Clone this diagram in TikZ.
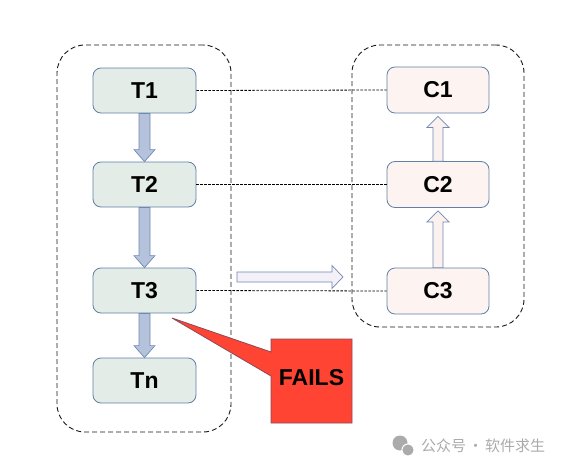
\documentclass[tikz,border=0pt]{standalone}
\usepackage{fontspec}
\setmainfont{Liberation Sans}
\newfontfamily\cjk{Noto Sans CJK SC}
\usetikzlibrary{calc}
\definecolor{boxline}{HTML}{6080A8}
\definecolor{tfill}{HTML}{E3ECE7}
\definecolor{cfill}{HTML}{FDF3F0}
\definecolor{darrowfill}{HTML}{B4C2DC}
\definecolor{darrowline}{HTML}{7089B4}
\definecolor{uarrowfill}{HTML}{FBF1EF}
\definecolor{rarrowfill}{HTML}{F3F0F8}
\definecolor{failred}{HTML}{FF4433}
\definecolor{failline}{HTML}{8A4A5A}
\definecolor{wmgray}{HTML}{ABABAB}
\newcommand{\tdarrow}[2]{%
  \path[fill=darrowfill, draw=darrowline, line width=0.7pt]
    let \p1=(#1.south), \p2=(#2.north) in
    (\x1-5.5pt,\y1) -- (\x1-5.5pt,\y2+12pt) -- (\x1-10.5pt,\y2+12pt) -- (\x1,\y2)
    -- (\x1+10.5pt,\y2+12pt) -- (\x1+5.5pt,\y2+12pt) -- (\x1+5.5pt,\y1) -- cycle;}
\newcommand{\cuarrow}[2]{%
  \path[fill=uarrowfill, draw=darrowline, line width=0.7pt]
    let \p1=(#1.north), \p2=(#2.south) in
    (\x1-5pt,\y1) -- (\x1-5pt,\y2-14pt) -- (\x1-11pt,\y2-14pt) -- (\x1,\y2-3pt)
    -- (\x1+11pt,\y2-14pt) -- (\x1+5pt,\y2-14pt) -- (\x1+5pt,\y1) -- cycle;}
\begin{document}
\begin{tikzpicture}[x=1pt,y=-1pt,
  tbox/.style={draw=boxline, fill=tfill, rounded corners=8pt, minimum width=103pt,
    minimum height=45pt, inner sep=0pt, line width=0.8pt,
    font=\fontsize{23}{23}\selectfont\bfseries},
  cbox/.style={tbox, fill=cfill, minimum width=102pt, minimum height=46pt},
  container/.style={draw=black!90, dash pattern=on 5pt off 3pt, rounded corners=28pt,
    line width=0.9pt, inner sep=0pt},
  link/.style={draw=black, dash pattern=on 2.5pt off 1.5pt, line width=0.8pt}]
\useasboundingbox[fill=white] (0,0) rectangle (571,471);

% containers
\node[container, minimum width=174pt, minimum height=387pt] (L) at (144,238.5) {};
\node[container, minimum width=172pt, minimum height=282pt] (R) at (438,186) {};

% boxes
\node[tbox] (T1) at (144.5,90.5) {T1};
\node[tbox] (T2) at (144.5,184.5) {T2};
\node[tbox] (T3) at (144.5,290.5) {T3};
\node[tbox] (Tn) at (144.5,380.5) {Tn};
\node[cbox] (C1) at (438,90) {C1};
\node[cbox] (C2) at (438,184.5) {C2};
\node[cbox] (C3) at (438,291) {C3};

% dashed links
\draw[link] (T1.east) -- (C1.west);
\draw[link] (T2.east) -- (C2.west);
\draw[link] (T3.east) -- (C3.west);

% block arrows
\tdarrow{T1}{T2}
\tdarrow{T2}{T3}
\tdarrow{T3}{Tn}
\cuarrow{C2}{C1}
\cuarrow{C3}{C2}

% right arrow between containers
\coordinate (ra1) at (237,277);
\coordinate (ra2) at (343,277);
\path[fill=rarrowfill, draw=darrowline, line width=0.7pt]
  let \p1=(ra1), \p2=(ra2) in
  (\x1,\y1+5pt) -- (\x2-11pt,\y1+5pt) -- (\x2-11pt,\y1+11.5pt) -- (\x2,\y1)
  -- (\x2-11pt,\y1-11.5pt) -- (\x2-11pt,\y1-5pt) -- (\x1,\y1-5pt) -- cycle;

% FAILS callout
\coordinate (fp) at (172,318);
\path[fill=failred, draw=failline, line width=0.8pt, line join=miter]
  (fp) -- (271,352) -- (271,339) -- (352,339) -- (352,423) -- (271,423) -- (271,376) -- cycle;
\node[font=\fontsize{23}{23}\selectfont\bfseries, text=black] (F) at (311.5,378) {FAILS};

% watermark
\fill[wmgray] (400,443) circle (7.5);
\fill[wmgray, draw=white, line width=1pt] (408,450) circle (6);
\node[text=wmgray, font=\cjk\fontsize{15}{15}\selectfont, anchor=west, inner sep=0pt] (wm) at (421,446) {公众号\kern2pt·\kern2pt软件求生};
\end{tikzpicture}
\end{document}
